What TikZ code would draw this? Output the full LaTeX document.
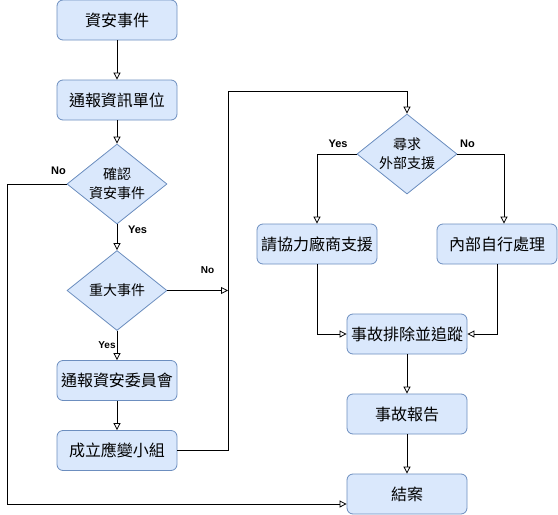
\documentclass[tikz,border=0pt]{standalone}
\usepackage{fontspec}
\setmainfont{Liberation Sans}
\newfontfamily\cjk{Noto Sans CJK TC}
\usetikzlibrary{shapes.geometric,arrows.meta}
\definecolor{boxfill}{HTML}{DAE8FC}
\definecolor{boxline}{HTML}{6C8EBF}
\begin{document}
\begin{tikzpicture}[x=1pt,y=-1pt,
  box/.style={draw=boxline, fill=boxfill, rounded corners=6pt, minimum width=120pt, minimum height=40pt, inner sep=0pt, line width=0.8pt, font=\cjk\fontsize{16}{19}\selectfont},
  dec/.style={diamond, draw=boxline, fill=boxfill, minimum width=100pt, minimum height=80pt, inner sep=0pt, aspect=1.25, line width=0.8pt, align=center, font=\cjk\fontsize{14}{19}\selectfont},
  lbl/.style={font=\bfseries\fontsize{11}{13}\selectfont, inner sep=0pt},
  lbls/.style={font=\bfseries\fontsize{10}{12}\selectfont, inner sep=0pt},
  flow/.style={draw=black, line width=0.8pt, -{Triangle[open, length=7pt, width=7pt]}},
  plain/.style={draw=black, line width=0.8pt}]
\useasboundingbox (0,0) rectangle (558,515);
\node[box] (n1) at (117,20) {資安事件};
\node[box] (n2) at (117,100) {通報資訊單位};
\node[dec] (d1) at (117,184) {確認\\資安事件};
\node[dec] (d2) at (117,290.5) {重大事件};
\node[box] (n3) at (117,380.5) {通報資安委員會};
\node[box] (n4) at (117,450.5) {成立應變小組};
\node[dec] (d3) at (407,154) {尋求\\外部支援};
\node[box] (n5) at (317,244) {請協力廠商支援};
\node[box] (n6) at (497,244) {內部自行處理};
\node[box] (n8) at (407,334) {事故排除並追蹤};
\node[box] (n9) at (407,414) {事故報告};
\node[box] (n10) at (407,494) {結案};

\coordinate (junc) at (228,290.5);
\coordinate (top) at (228,91);
\coordinate (lft) at (7,184);
\coordinate (in10) at ([yshift=-10pt]n10.west);
\coordinate (in6) at ([xshift=7pt]n6.north);

\draw[flow] (n1.south) -- (n2.north);
\draw[flow] (n2.south) -- (d1.north);
\draw[flow] (d1.south) -- (d2.north);
\draw[flow] (d2.south) -- (n3.north);
\draw[flow] (n3.south) -- (n4.north);
\draw[flow] (d2.east) -- (junc);
\draw[flow] (n4.east) -| (top) -| (d3.north);
\draw[flow] (d1.west) -- (lft) |- (in10);
\draw[flow] (d3.west) -| (n5.north);
\draw[flow] (d3.east) -| (in6);
\draw[flow] (n5.south) |- (n8.west);
\draw[flow] (n6.south) |- (n8.east);
\draw[flow] (n8.south) -- (n9.north);
\draw[flow] (n9.south) -- (n10.north);

\node[lbl] (l1) at (58.5,171) {No};
\node[lbl] (l2) at (137.5,230) {Yes};
\node[lbls] (l3) at (207.5,270) {No};
\node[lbls] (l4) at (107,345) {Yes};
\node[lbl] (l5) at (338,144) {Yes};
\node[lbl] (l6) at (467.5,144) {No};
\end{tikzpicture}
\end{document}
